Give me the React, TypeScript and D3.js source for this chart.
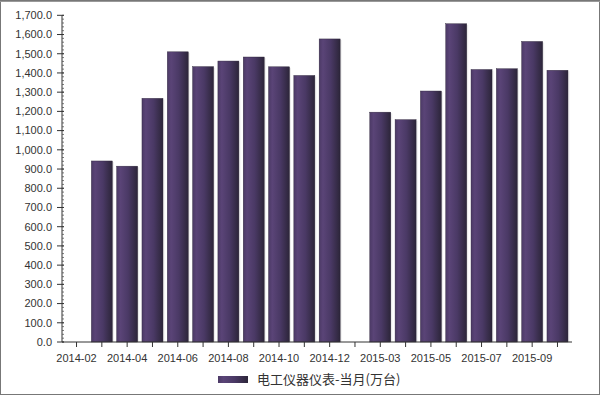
import React, { useEffect, useRef } from "react";
import * as d3 from "d3";

const categories = [
  "2014-02", "2014-03", "2014-04", "2014-05", "2014-06", "2014-07", "2014-08",
  "2014-09", "2014-10", "2014-11", "2014-12", "2015-02", "2015-03", "2015-04",
  "2015-05", "2015-06", "2015-07", "2015-08", "2015-09", "2015-10",
];
const values: (number | null)[] = [
  null, 942, 915, 1268, 1510, 1433, 1462, 1483, 1432, 1387, 1577,
  null, 1196, 1157, 1306, 1656, 1418, 1422, 1564, 1414,
];
const seriesName = "电工仪器仪表-当月(万台)";
const yTicks = d3.range(0, 1701, 100);

export default function App() {
  const svgRef = useRef<SVGSVGElement | null>(null);

  useEffect(() => {
    if (!svgRef.current) return;
    const width = 600;
    const height = 395;
    const font = "'Liberation Sans', Arial, sans-serif";

    const svg = d3.select(svgRef.current);
    svg.selectAll("*").remove();
    svg.attr("width", width).attr("height", height);

    svg.append("rect").attr("width", width).attr("height", height).attr("fill", "#fff");

    const defs = svg.append("defs");
    const grad = defs
      .append("linearGradient")
      .attr("id", "barGrad")
      .attr("x1", "0%")
      .attr("x2", "100%")
      .attr("y1", "0%")
      .attr("y2", "0%");
    grad.append("stop").attr("offset", "0%").attr("stop-color", "#4c3a66");
    grad.append("stop").attr("offset", "18%").attr("stop-color", "#5a4477");
    grad.append("stop").attr("offset", "55%").attr("stop-color", "#4a3965");
    grad.append("stop").attr("offset", "100%").attr("stop-color", "#2c2539");

    const x = d3
      .scaleBand()
      .domain(categories)
      .range([64, 570])
      .paddingInner(0.17)
      .paddingOuter(0.08);

    const y = d3.scaleLinear().domain([0, 1700]).range([342, 15.3]);

    // bar shadows
    const data = categories.map((c, i) => ({ c, v: values[i] }));
    const drawn = data.filter((d) => d.v !== null) as { c: string; v: number }[];

    svg
      .append("g")
      .selectAll("rect")
      .data(drawn)
      .join("rect")
      .attr("x", (d) => (x(d.c) as number) + 1.5)
      .attr("y", (d) => y(d.v) + 1)
      .attr("width", x.bandwidth())
      .attr("height", (d) => y(0) - y(d.v) - 1)
      .attr("fill", "#000")
      .attr("opacity", 0.08);

    svg
      .append("g")
      .selectAll("rect")
      .data(drawn)
      .join("rect")
      .attr("x", (d) => x(d.c) as number)
      .attr("y", (d) => y(d.v))
      .attr("width", x.bandwidth())
      .attr("height", (d) => y(0) - y(d.v))
      .attr("fill", "url(#barGrad)")
      .attr("stroke", "#2a2236")
      .attr("stroke-width", 0.4);

    // y axis
    const yAxis = svg.append("g").attr("transform", "translate(62,0)");
    yAxis
      .append("line")
      .attr("y1", y(0))
      .attr("y2", y(1700))
      .attr("stroke", "#333");
    yAxis
      .selectAll("line.minor")
      .data(d3.range(0, 1701, 20))
      .join("line")
      .attr("class", "minor")
      .attr("x1", 0)
      .attr("x2", 2)
      .attr("y1", (d) => y(d))
      .attr("y2", (d) => y(d))
      .attr("stroke", "#555")
      .attr("stroke-width", 0.8);
    yAxis
      .selectAll("line.major")
      .data(yTicks)
      .join("line")
      .attr("class", "major")
      .attr("x1", -5)
      .attr("x2", 2)
      .attr("y1", (d) => y(d))
      .attr("y2", (d) => y(d))
      .attr("stroke", "#333");
    yAxis
      .selectAll("text")
      .data(yTicks)
      .join("text")
      .attr("x", -10)
      .attr("y", (d) => y(d))
      .attr("dy", "0.35em")
      .attr("text-anchor", "end")
      .attr("font-family", font)
      .attr("font-size", 11)
      .attr("fill", "#333")
      .text((d) => d3.format(",.1f")(d));

    // x axis
    const xAxis = svg.append("g").attr("transform", `translate(0,${y(0)})`);
    xAxis.append("line").attr("x1", 62).attr("x2", 572).attr("stroke", "#333");
    xAxis
      .selectAll("line.tick")
      .data(categories)
      .join("line")
      .attr("class", "tick")
      .attr("x1", (d) => (x(d) as number) + x.bandwidth() / 2)
      .attr("x2", (d) => (x(d) as number) + x.bandwidth() / 2)
      .attr("y1", 0)
      .attr("y2", 5)
      .attr("stroke", "#333");
    xAxis
      .selectAll("text")
      .data(categories.filter((_, i) => i % 2 === 0))
      .join("text")
      .attr("x", (d) => (x(d) as number) + x.bandwidth() / 2)
      .attr("y", 20)
      .attr("text-anchor", "middle")
      .attr("font-family", font)
      .attr("font-size", 11)
      .attr("fill", "#333")
      .text((d) => d);

    // legend
    const lg = svg.append("g").attr("transform", "translate(218,376)");
    lg.append("rect")
      .attr("width", 30)
      .attr("height", 7)
      .attr("fill", "url(#barGrad)");
    lg.append("text")
      .attr("x", 39)
      .attr("y", 3.5)
      .attr("dy", "0.38em")
      .attr("font-family", "'Noto Sans CJK SC', 'Liberation Sans', sans-serif")
      .attr("font-size", 13)
      .attr("fill", "#333")
      .text(seriesName);

    // frame
    svg
      .append("rect")
      .attr("x", 0.5)
      .attr("y", 0.5)
      .attr("width", width - 1)
      .attr("height", height - 1)
      .attr("fill", "none")
      .attr("stroke", "#777");
    svg
      .append("line")
      .attr("x1", 0)
      .attr("x2", width)
      .attr("y1", 1.5)
      .attr("y2", 1.5)
      .attr("stroke", "#999");
  }, []);

  return (
    <svg
      ref={svgRef}
      style={{ position: "absolute", left: 0, top: 0, display: "block" }}
    />
  );
}
